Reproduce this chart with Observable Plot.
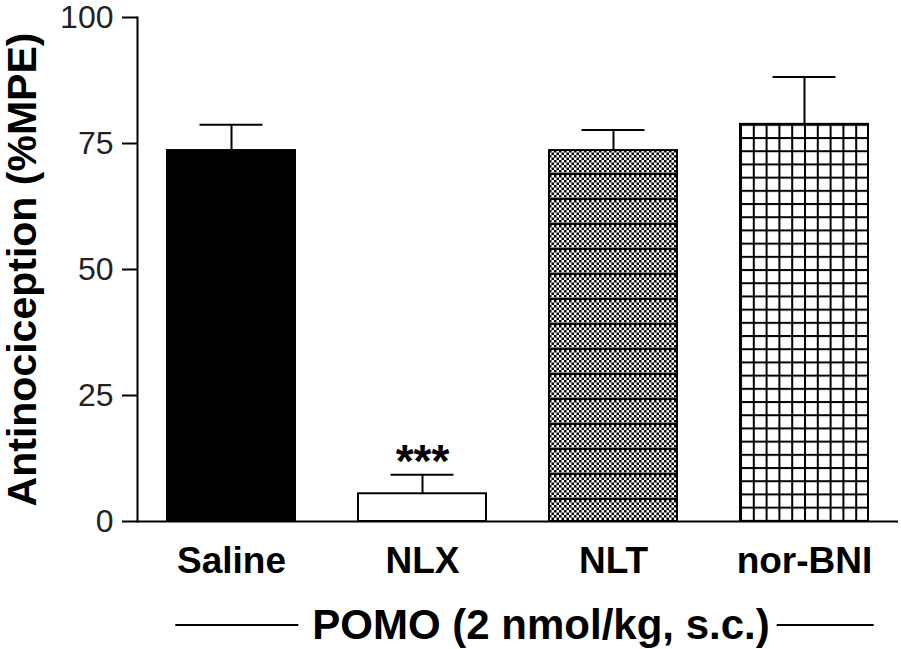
<!DOCTYPE html>
<html>
<head>
<meta charset="utf-8">
<script src="https://cdn.jsdelivr.net/npm/d3@7"></script>
<script src="https://cdn.jsdelivr.net/npm/@observablehq/plot@0.6"></script>
<style>
  body { margin: 0; background: #fff; }
  svg { display: block; }
</style>
</head>
<body>
<div id="chart"></div>
<script>
// ---- data ----
const categories = ["Saline", "NLX", "NLT", "nor-BNI"];
const means = [73.6, 5.5, 73.6, 78.8];
const sems = [5.1, 3.8, 4.1, 9.4];
const significance = ["", "***", "", ""];
const yTicks = [0, 25, 50, 75, 100];
const yLabel = "Antinociception (%MPE)";
const xCaption = "POMO (2 nmol/kg, s.c.)";

const rows = categories.map((c, i) => ({
  group: c, mean: means[i], upper: means[i] + sems[i], sig: significance[i]
}));

const font = "'Liberation Sans', Arial, sans-serif";

const chart = Plot.plot({
  width: 901,
  height: 649,
  marginTop: 17,
  marginBottom: 128,
  marginLeft: 137,
  marginRight: 3,
  style: { fontFamily: font, background: "#fff", color: "#000" },
  x: { domain: categories, paddingInner: 0.33, paddingOuter: 0.157 },
  y: { domain: [0, 100] },
  color: { domain: categories, range: ["#000", "#fff", "url(#pat-nlt)", "url(#pat-grid)"] },
  marks: [
    Plot.barY(rows, { x: "group", y: "mean", fill: "group", stroke: "#000", strokeWidth: 2 }),
    Plot.ruleX(rows, { x: "group", y1: "mean", y2: "upper", stroke: "#000", strokeWidth: 2 }),
    Plot.tickY(rows, { x: "group", y: "upper", stroke: "#000", strokeWidth: 2, insetLeft: 32.5, insetRight: 32.5 }),
    Plot.text(rows, { x: "group", y: "upper", text: "sig", fontSize: 46, fontWeight: "bold", lineAnchor: "bottom", dy: 2, fill: "#000" }),
    Plot.axisY({ ticks: yTicks, tickSize: 15, tickPadding: 9, fontSize: 32, label: null, stroke: "#000", strokeWidth: 2, fill: "#222", tickFormat: d => String(d) }),
    Plot.axisX({ tickSize: 0, tickPadding: 25, fontSize: 37, fontWeight: "bold", label: null, fill: "#000" }),
    Plot.frame({ anchor: "left", stroke: "#000", strokeWidth: 2 }),
    Plot.ruleY([0], { stroke: "#000", strokeWidth: 2 }),
    Plot.text([yLabel], { frameAnchor: "left", rotate: -90, dx: -115, fontSize: 41, fontWeight: "bold", fill: "#000", textAnchor: "middle" }),
    Plot.text([xCaption], { frameAnchor: "bottom", dx: 23, dy: 117, lineAnchor: "bottom", fontSize: 42, fontWeight: "bold", fill: "#000" })
  ]
});

document.getElementById("chart").appendChild(chart);

// ---- patterns for the NLT and nor-BNI bars ----
const svg = d3.select(chart);
const xs = chart.scale("x");
const ys = chart.scale("y");
const defs = svg.insert("defs", ":first-child");

const c = 2.5; // checker cell
const pNlt = defs.append("pattern")
  .attr("id", "pat-nlt").attr("patternUnits", "userSpaceOnUse")
  .attr("width", 2 * c).attr("height", 25)
  .attr("x", xs.apply("NLT")).attr("y", ys.apply(means[2]));
pNlt.append("rect").attr("width", 2 * c).attr("height", 25).attr("fill", "#fff");
for (let r = 0; r < 5; r++) {
  pNlt.append("rect").attr("x", 0).attr("y", r * 2 * c).attr("width", c).attr("height", c).attr("fill", "#000");
  pNlt.append("rect").attr("x", c).attr("y", r * 2 * c + c).attr("width", c).attr("height", c).attr("fill", "#000");
}
pNlt.append("rect").attr("x", 0).attr("y", 23).attr("width", 2 * c).attr("height", 2).attr("fill", "#000");

const gw = xs.bandwidth / 10;
const pGrid = defs.append("pattern")
  .attr("id", "pat-grid").attr("patternUnits", "userSpaceOnUse")
  .attr("width", gw).attr("height", 13.2)
  .attr("x", xs.apply("nor-BNI")).attr("y", ys.apply(means[3]));
pGrid.append("rect").attr("width", gw).attr("height", 13.2).attr("fill", "#fff");
pGrid.append("rect").attr("x", 0).attr("y", 0).attr("width", 2).attr("height", 13.2).attr("fill", "#000");
pGrid.append("rect").attr("x", 0).attr("y", 0).attr("width", gw).attr("height", 2).attr("fill", "#000");

// ---- decorative lines either side of the caption ----
const cap = svg.selectAll("text").filter(function () { return this.textContent === xCaption; }).node();
if (cap) {
  const r = cap.getBoundingClientRect();
  const s = chart.getBoundingClientRect();
  const left = r.left - s.left, right = r.right - s.left;
  const ly = r.top - s.top + r.height * 0.52;
  svg.append("line").attr("x1", left - 137).attr("x2", left - 14).attr("y1", ly).attr("y2", ly)
    .attr("stroke", "#000").attr("stroke-width", 2);
  svg.append("line").attr("x1", right + 7).attr("x2", right + 104).attr("y1", ly).attr("y2", ly)
    .attr("stroke", "#000").attr("stroke-width", 2);
}
</script>
</body>
</html>
